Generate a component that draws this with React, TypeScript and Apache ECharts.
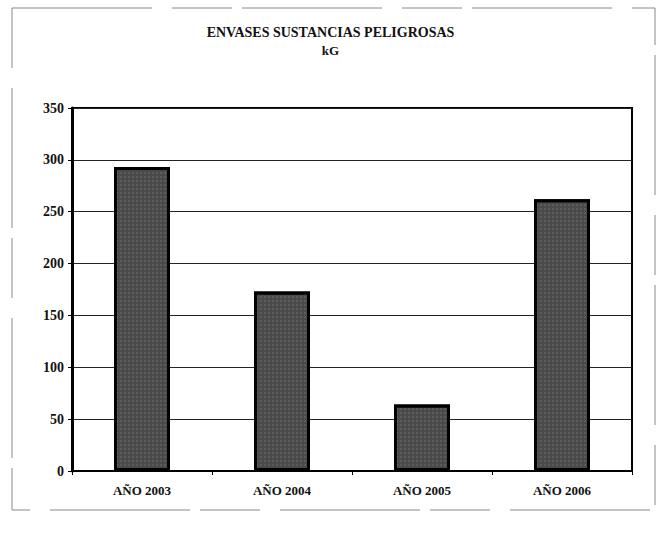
import React, { useEffect, useRef } from "react";
import * as echarts from "echarts";

const categories = ["AÑO 2003", "AÑO 2004", "AÑO 2005", "AÑO 2006"];
const values = [293, 173, 64, 262];
const titleText = "ENVASES SUSTANCIAS PELIGROSAS";
const subtitleText = "kG";

export default function App() {
  const ref = useRef<HTMLDivElement>(null);
  useEffect(() => {
    document.body.style.margin = "0";
    const chart = echarts.init(ref.current!, null, { renderer: "svg" });
    const font = "'Liberation Serif', 'DejaVu Serif', serif";
    chart.setOption({
      animation: false,
      backgroundColor: "#ffffff",
      aria: { enabled: true, decal: { show: true } },
      title: {
        text: titleText,
        subtext: subtitleText,
        left: "center",
        top: 20,
        itemGap: 5,
        textStyle: { fontFamily: font, fontSize: 14, fontWeight: "bold", color: "#111" },
        subtextStyle: { fontFamily: font, fontSize: 13, fontWeight: "bold", color: "#111" },
      },
      graphic: [
        {
          type: "rect",
          shape: { x: 12, y: 8, width: 643, height: 502 },
          style: { fill: "none", stroke: "#888", lineWidth: 1, lineDash: [140, 20, 60, 10] },
          silent: true,
        },
      ],
      grid: {
        left: 72,
        right: 29,
        top: 108,
        bottom: 62,
        show: true,
        borderColor: "#000",
        borderWidth: 2,
        backgroundColor: "transparent",
      },
      xAxis: {
        type: "category",
        data: categories,
        axisLine: { lineStyle: { color: "#000", width: 2 } },
        axisTick: { show: true, length: 4, lineStyle: { color: "#000" } },
        axisLabel: { fontFamily: font, fontSize: 13, fontWeight: "bold", color: "#111", margin: 13 },
      },
      yAxis: {
        type: "value",
        min: 0,
        max: 350,
        interval: 50,
        axisLine: { show: true, lineStyle: { color: "#000", width: 3 } },
        axisTick: { show: true, length: 4, lineStyle: { color: "#000" } },
        axisLabel: { fontFamily: font, fontSize: 14, fontWeight: "bold", color: "#111", margin: 8 },
        splitLine: { show: true, lineStyle: { color: "#222", width: 1 } },
      },
      series: [
        {
          type: "bar",
          data: values,
          barWidth: "40%",
          itemStyle: {
            color: "#4a4a4a",
            borderColor: "#000",
            borderWidth: 3,
            decal: {
              symbol: "circle",
              symbolSize: 0.6,
              color: "rgba(255,255,255,0.3)",
              dashArrayX: [2, 2],
              dashArrayY: [2, 2],
              rotation: 0,
            },
          },
        },
      ],
    });
    return () => chart.dispose();
  }, []);
  return <div ref={ref} style={{ width: 661, height: 533 }} />;
}
